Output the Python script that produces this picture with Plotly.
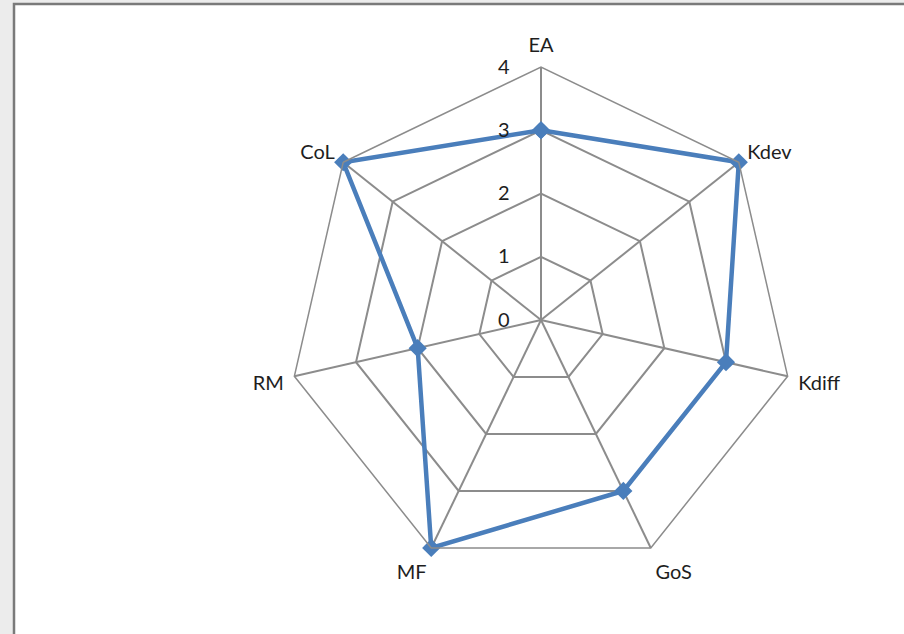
import plotly.graph_objects as go

# Competence profile across seven dimensions (scale 0-4)
categories = ["EA", "Kdev", "Kdiff", "GoS", "MF", "RM", "CoL"]
values = [3, 4, 3, 3, 4, 2, 4]
radial_ticks = [0, 1, 2, 3, 4]

W, H = 904, 634
cx, cy, R = 541, 320, 253  # polar centre and outer radius in pixels

fig = go.Figure()
fig.add_trace(go.Scatterpolar(
    r=values + values[:1],
    theta=categories + categories[:1],
    mode="lines+markers",
    line=dict(color="#4a7ebb", width=4.5),
    marker=dict(symbol="diamond", size=14, color="#4a7ebb"),
    showlegend=False,
    hoverinfo="skip",
))

grid = "#8c8c8c"
label_font = dict(family="Lato, 'Open Sans', sans-serif", size=20, color="#1e1e1e")
fig.update_layout(
    width=W, height=H,
    margin=dict(l=0, r=0, t=0, b=0),
    paper_bgcolor="#ececec",
    plot_bgcolor="white",
    font=label_font,
    polar=dict(
        domain=dict(x=[(cx - R) / W, (cx + R) / W],
                    y=[(H - cy - R) / H, (H - cy + R) / H]),
        bgcolor="white",
        gridshape="linear",
        angularaxis=dict(
            direction="clockwise", rotation=90,
            showline=True, linecolor=grid, linewidth=1.5,
            gridcolor=grid, gridwidth=1.5,
            ticks="outside", ticklen=6, tickcolor="rgba(0,0,0,0)",
            tickfont=label_font,
        ),
        radialaxis=dict(
            range=[0, 4], angle=90, tickangle=90,
            tickvals=radial_ticks, ticktext=[str(t) for t in radial_ticks],
            showline=False, side="counterclockwise",
            ticks="outside", ticklen=24, tickcolor="rgba(0,0,0,0)",
            gridcolor=grid, gridwidth=1.5,
            tickfont=label_font,
        ),
    ),
    shapes=[dict(
        type="rect", xref="paper", yref="paper",
        x0=14 / W, x1=1.02, y0=-0.02, y1=1 - 4 / H,
        fillcolor="white", line=dict(color="#7a7a7a", width=2.5),
        layer="below",
    )],
)

fig.write_html("out.html")
